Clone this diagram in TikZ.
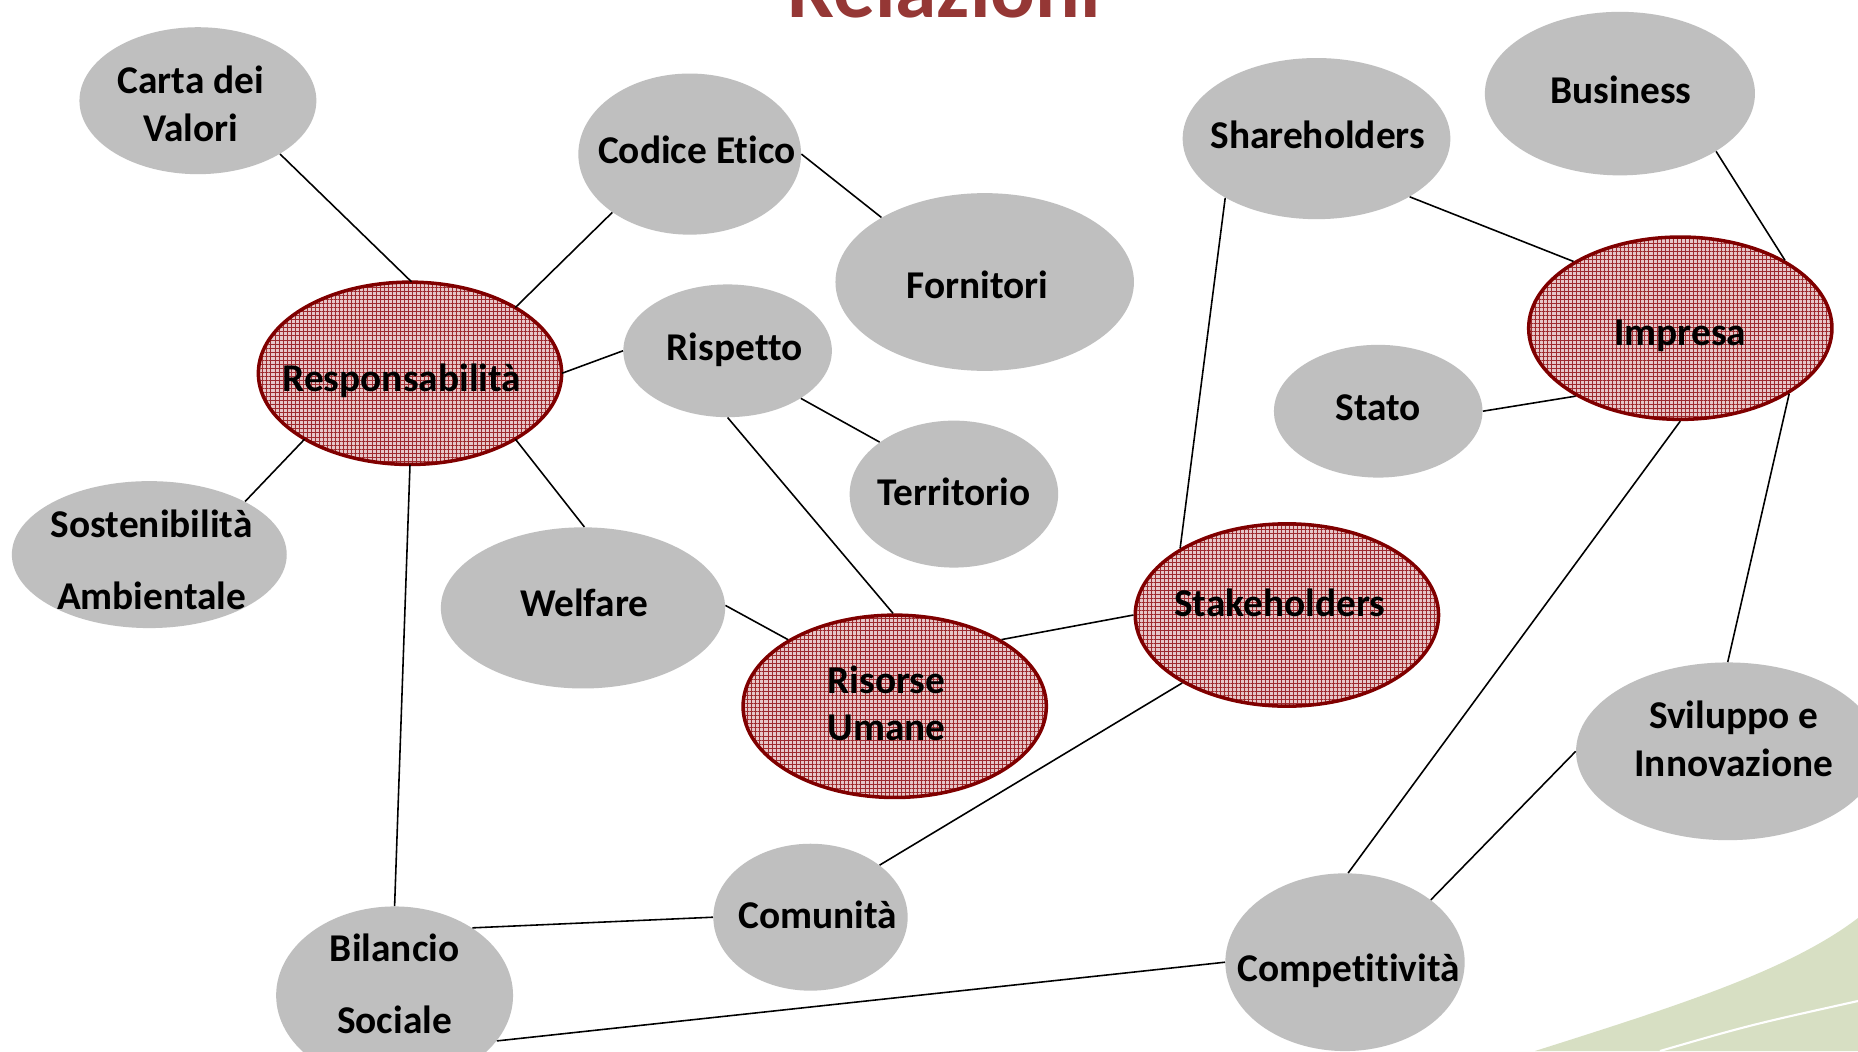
\documentclass[tikz,border=0pt]{standalone}
\usepackage{fontspec}
\setmainfont{Carlito}[Ligatures=NoCommon]
\usetikzlibrary{shapes.geometric,patterns.meta}
\definecolor{ellgray}{HTML}{BFBFBF}
\definecolor{hubred}{HTML}{800000}
\definecolor{hubpink}{HTML}{E6C6C8}
\definecolor{hubgrid}{HTML}{9E2A2E}
\definecolor{titlered}{HTML}{953735}
\definecolor{swoosh}{HTML}{D7DFC3}
\begin{document}
\begin{tikzpicture}[x=0.02cm,y=-0.02cm,
  sz/.style 2 args={minimum width=#1*0.04cm, minimum height=#2*0.04cm},
  leaf/.style={ellipse, fill=ellgray, draw=none, inner sep=0pt},
  hub/.style={ellipse, draw=hubred, line width=2pt, inner sep=0pt,
    preaction={fill=hubpink},
    pattern={Hatch[angle=0,distance=2.3pt,line width=0.3pt]},
    pattern color=hubgrid},
  lbl/.style={anchor=base, font=\fontsize{22.4}{26}\selectfont\bfseries, inner sep=0pt},
  link/.style={draw=black, line width=0.9pt}]
\path[use as bounding box] (0,0) rectangle (1858,1051);
\clip (0,0) rectangle (1858,1051);
\fill[white] (0,0) rectangle (1858,1051);
% decorative swoosh
\fill[swoosh] (1535,1051) .. controls (1680,1005) and (1790,970) .. (1858,918) -- (1858,1051) -- cycle;
\draw[white, line width=1.2pt] (1660,1051) .. controls (1750,1025) .. (1858,1001);
% title
\node[anchor=base, text=titlered, font=\fontsize{47.5}{50}\selectfont\bfseries, inner sep=0pt] (title) at (944,18) {Relazioni};
% ellipses
\node[leaf, sz={118.5}{73.5}] (carta) at (197.9,100.7) {};
\node[leaf, sz={111.4}{80.6}] (codice) at (689.7,154.1) {};
\node[leaf, sz={149.3}{88.9}] (fornitori) at (984.7,282) {};
\node[leaf, sz={104.3}{66.4}] (rispetto) at (727.6,350.8) {};
\node[hub,  sz={151.7}{91.2}] (resp) at (410,373.3) {};
\node[leaf, sz={137.5}{73.5}] (sost) at (149.3,554.6) {};
\node[leaf, sz={142.2}{80.6}] (welfare) at (583,607.9) {};
\node[leaf, sz={104.3}{73.5}] (territorio) at (953.9,494.1) {};
\node[hub,  sz={151.7}{91.2}] (risorse) at (894.7,706.3) {};
\node[hub,  sz={151.7}{91.2}] (stake) at (1286.9,615) {};
\node[leaf, sz={133.9}{80.6}] (share) at (1316.5,138.6) {};
\node[leaf, sz={135.1}{81.8}] (business) at (1619.9,93.6) {};
\node[hub,  sz={151.7}{91.2}] (impresa) at (1680.3,328.2) {};
\node[leaf, sz={104.3}{66.4}] (stato) at (1378.2,411.2) {};
\node[leaf, sz={151.7}{88.9}] (sviluppo) at (1727.7,751.3) {};
\node[leaf, sz={119.7}{88.9}] (compet) at (1345,962.2) {};
\node[leaf, sz={118.5}{89}] (bilancio) at (394.6,995.4) {};
\node[leaf, sz={97.2}{73.5}] (comunita) at (810.5,917.2) {};
% connectors
\draw[link] (carta.-33) -- (resp.89);
\draw[link] (codice.-143) -- (resp.32);
\draw[link] (codice.0) -- (fornitori.148);
\draw[link] (resp.0) -- (rispetto.180);
\draw[link] (rispetto.-33) -- (territorio.145);
\draw[link] (rispetto.-90) -- (risorse.91);
\draw[link] (resp.-148) -- (sost.29);
\draw[link] (resp.-32) -- (welfare.89);
\draw[link] (resp.-90) -- (bilancio.90);
\draw[link] (welfare.1) -- (risorse.148);
\draw[link] (risorse.32) -- (stake.180);
\draw[link] (stake.148) -- (share.-147);
\draw[link] (stake.-147) -- (comunita.37);
\draw[link] (bilancio.41) -- (comunita.180);
\draw[link] (bilancio.-24) -- (compet.180);
\draw[link] (share.-32) -- (impresa.148);
\draw[link] (business.-31) -- (impresa.33);
\draw[link] (stato.0) -- (impresa.-147);
\draw[link] (impresa.-90) -- (compet.88);
\draw[link] (impresa.-31) -- (sviluppo.90);
\draw[link] (sviluppo.180) -- (compet.36);
% labels
\node[lbl] (carta-t1) at (190.8,93.8) {Carta dei};
\node[lbl] (carta-t2) at (190.8,141.2) {Valori};
\node[lbl] (codice-t) at (696.8,163.7) {Codice Etico};
\node[lbl] (fornitori-t) at (977.6,298.8) {Fornitori};
\node[lbl] (rispetto-t) at (734.7,360.4) {Rispetto};
\node[lbl] (resp-t) at (401.7,391.2) {Responsabilità};
\node[lbl] (sost-t1) at (151.7,537) {Sostenibilità};
\node[lbl] (sost-t2) at (151.7,609.2) {Ambientale};
\node[lbl] (welfare-t) at (584.2,616.4) {Welfare};
\node[lbl] (territorio-t) at (953.9,505) {Territorio};
\node[lbl] (risorse-t1) at (886.4,693.4) {Risorse};
\node[lbl] (risorse-t2) at (886.4,740.8) {Umane};
\node[lbl] (stake-t) at (1279.8,616.4) {Stakeholders};
\node[lbl] (share-t) at (1317.7,148.3) {Shareholders};
\node[lbl] (business-t) at (1621.1,103.2) {Business};
\node[lbl] (impresa-t) at (1680.3,345) {Impresa};
\node[lbl] (stato-t) at (1378.2,420.8) {Stato};
\node[lbl] (sviluppo-t1) at (1733.7,728.9) {Sviluppo e};
\node[lbl] (sviluppo-t2) at (1733.7,776.3) {Innovazione};
\node[lbl] (compet-t) at (1348.5,981.3) {Competitività};
\node[lbl] (bilancio-t1) at (394.6,961.2) {Bilancio};
\node[lbl] (bilancio-t2) at (394.6,1033.5) {Sociale};
\node[lbl] (comunita-t) at (817.6,928) {Comunità};
\end{tikzpicture}
\end{document}
